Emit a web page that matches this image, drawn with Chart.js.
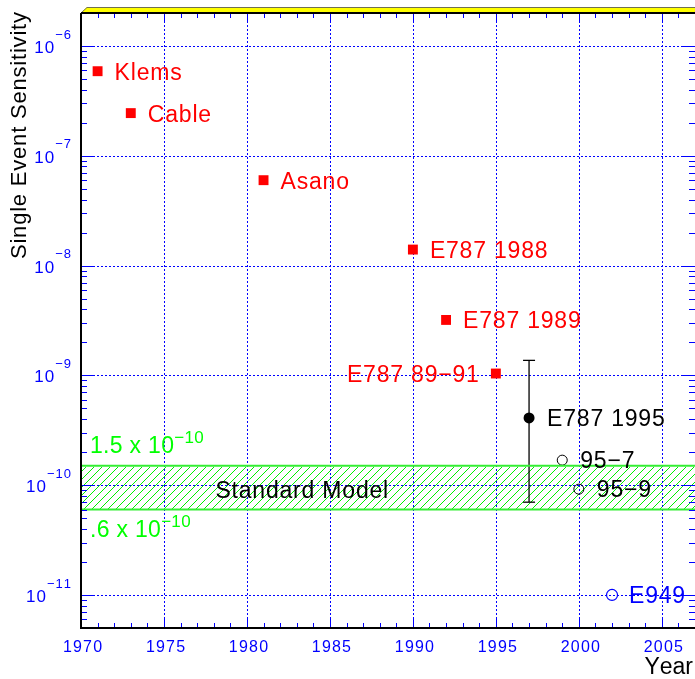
<!DOCTYPE html>
<html>
<head>
<meta charset="utf-8">
<script src="https://cdn.jsdelivr.net/npm/chart.js@4.4.1/dist/chart.umd.min.js"></script>
<style>
  html, body { margin: 0; padding: 0; background: #fff; }
</style>
</head>
<body>
<canvas id="c" width="695" height="679"></canvas>
<script>
// Données
const expNames = ['Klems', 'Cable', 'Asano', 'E787 1988', 'E787 1989', 'E787 89\u221291'];
const expYears = [1971, 1973, 1981, 1990, 1992, 1995];
const expSES = [5.9e-7, 2.45e-7, 6.0e-8, 1.4e-8, 3.2e-9, 1.04e-9];

const e787Year = 1997;
const e787SES = 4.1e-10;
const e787Err = [7.0e-11, 1.37e-9]; // bas, haut

const propNames = ['95\u22127', '95\u22129'];
const propYears = [1999, 2000];
const propSES = [1.69e-10, 9.2e-11];

const e949Year = 2002;
const e949SES = 1.0e-11;

const smBand = [6e-11, 1.5e-10];
const xRange = [1970, 2007];
const yRange = [5e-12, 2e-6];
const xTickYears = [1970, 1975, 1980, 1985, 1990, 1995, 2000, 2005];
const yTickExps = [-11, -10, -9, -8, -7, -6];

const FONT = '"Liberation Sans", Arial, Helvetica, sans-serif';
const BLUE = '#0000ff';
const GREEN = '#00ff00';
const LBL = 23; // taille des étiquettes

// largeur d'un texte avec espacement des lettres (fait à la main)
function width(ctx, s, size, spacing) {
  ctx.save();
  ctx.font = size + 'px ' + FONT;
  let w = 0;
  for (const ch of s) w += ctx.measureText(ch).width + spacing;
  ctx.restore();
  return w - spacing;
}

function text(ctx, s, x, y, size, color, align, spacing) {
  spacing = spacing === undefined ? 0.8 : spacing;
  const w = width(ctx, s, size, spacing);
  let cx = x;
  if (align === 'right') cx = x - w;
  else if (align === 'center') cx = x - w / 2;
  ctx.save();
  ctx.font = size + 'px ' + FONT;
  ctx.fillStyle = color;
  ctx.textAlign = 'left';
  ctx.textBaseline = 'alphabetic';
  for (const ch of s) {
    ctx.fillText(ch, cx, y);
    cx += ctx.measureText(ch).width + spacing;
  }
  ctx.restore();
}

// texte "base" + exposant ; yc = centre vertical de la base
function powText(ctx, base, exp, x, yc, bSize, eSize, rise, color, align, spacing) {
  const wb = width(ctx, base, bSize, spacing) + spacing;
  const we = width(ctx, exp, eSize, spacing);
  const x0 = align === 'right' ? x - wb - we : x;
  text(ctx, base, x0, yc + bSize * 0.716 / 2, bSize, color, 'left', spacing);
  text(ctx, exp, x0 + wb, yc - rise + eSize * 0.716 / 2, eSize, color, 'left', spacing);
}

// hachures de la bande + grille pointillée, pixel par pixel
function drawBandAndGrid(chart) {
  const { ctx, chartArea: a, scales: { x, y } } = chart;
  const top = Math.round(y.getPixelForValue(smBand[1])) + 1;
  const bot = Math.round(y.getPixelForValue(smBand[0]));
  const l = Math.round(a.left), r = Math.round(a.right);
  ctx.save();
  ctx.fillStyle = '#00ee00';
  for (let py = top; py < bot; py++) {
    for (let px = l; px < r; px++) {
      if ((px + py) % 8 === 0) ctx.fillRect(px, py, 1, 1);
    }
  }
  ctx.fillStyle = BLUE;
  xTickYears.forEach(v => {
    const px = Math.round(x.getPixelForValue(v));
    for (let py = Math.round(a.top); py < a.bottom; py += 4) ctx.fillRect(px, py, 1, 2);
  });
  yTickExps.forEach(e => {
    const py = Math.round(y.getPixelForValue(Math.pow(10, e)));
    for (let px = l; px < r; px += 4) ctx.fillRect(px, py, 2, 1);
  });
  ctx.restore();
}

const rootFrame = {
  id: 'rootFrame',
  beforeDatasetsDraw(chart) {
    drawBandAndGrid(chart);
  },
  afterDatasetsDraw(chart) {
    const { ctx, chartArea: a, scales: { x, y } } = chart;

    // graduations
    ctx.save();
    ctx.strokeStyle = BLUE;
    ctx.lineWidth = 1;
    ctx.beginPath();
    for (let yr = xRange[0]; yr <= xRange[1]; yr++) {
      const px = Math.round(x.getPixelForValue(yr)) + 0.5;
      const len = yr % 5 === 0 ? 10 : 5;
      ctx.moveTo(px, a.bottom); ctx.lineTo(px, a.bottom - len);
      ctx.moveTo(px, a.top); ctx.lineTo(px, a.top + len);
    }
    for (let e = -12; e <= -6; e++) {
      for (let m = 1; m <= 9; m++) {
        const v = m * Math.pow(10, e);
        if (v < yRange[0] || v > yRange[1]) continue;
        const py = Math.round(y.getPixelForValue(v)) + 0.5;
        const len = m === 1 ? 12 : 6;
        ctx.moveTo(a.left, py); ctx.lineTo(a.left + len, py);
        ctx.moveTo(a.right, py); ctx.lineTo(a.right - len, py);
      }
    }
    ctx.stroke();
    ctx.restore();

    // cadre
    ctx.save();
    ctx.fillStyle = '#ffff00';
    ctx.beginPath();
    ctx.moveTo(a.left, a.top);
    ctx.lineTo(a.left + 6, a.top - 6);
    ctx.lineTo(a.right, a.top - 6);
    ctx.lineTo(a.right, a.top);
    ctx.closePath();
    ctx.fill();
    ctx.strokeStyle = '#707050';
    ctx.lineWidth = 1;
    ctx.beginPath();
    ctx.moveTo(a.left, a.top);
    ctx.lineTo(a.left + 6, a.top - 5.5);
    ctx.lineTo(a.right, a.top - 5.5);
    ctx.stroke();
    ctx.strokeStyle = '#000';
    ctx.lineWidth = 2;
    ctx.beginPath();
    ctx.moveTo(a.left, a.top);
    ctx.lineTo(a.left, a.bottom);
    ctx.lineTo(a.right, a.bottom);
    ctx.moveTo(a.left, a.top);
    ctx.lineTo(a.right, a.top);
    ctx.stroke();
    ctx.restore();

    // étiquettes des axes
    xTickYears.forEach(v => {
      text(ctx, String(v), x.getPixelForValue(v) + 1.5, a.bottom + 23.5, 16, BLUE, 'center', 1.2);
    });
    yTickExps.forEach(e => {
      const py = y.getPixelForValue(Math.pow(10, e));
      powText(ctx, '10', '\u2212' + (-e), a.left - 10, py + 1, 17, 13, 13, BLUE, 'right', 1);
    });

    text(ctx, 'Year', a.right - 2, a.bottom + 46, LBL, '#000', 'right', 0);
    ctx.save();
    ctx.translate(26, a.top - 1);
    ctx.rotate(-Math.PI / 2);
    text(ctx, 'Single Event Sensitivity', 0, 0, 22, '#000', 'right', 0.8);
    ctx.restore();

    // étiquettes des points
    chart.getDatasetMeta(2).data.forEach((el, i) => {
      const right = i === expNames.length - 1;
      text(ctx, expNames[i], right ? el.x - 17 : el.x + 17, el.y + 8.5, LBL, '#ff0000', right ? 'right' : 'left');
    });
    const p95 = chart.getDatasetMeta(4).data[0];
    text(ctx, 'E787 1995', p95.x + 18, p95.y + 8.5, LBL, '#000', 'left');
    chart.getDatasetMeta(5).data.forEach((el, i) => {
      text(ctx, propNames[i], el.x + 18, el.y + 7.5, LBL, '#000', 'left');
    });
    const p949 = chart.getDatasetMeta(6).data[0];
    text(ctx, 'E949', p949.x + 17, p949.y + 8.5, LBL, BLUE, 'left');

    // bande du Modèle Standard
    const yHi = y.getPixelForValue(smBand[1]);
    const yLo = y.getPixelForValue(smBand[0]);
    text(ctx, 'Standard Model', x.getPixelForValue(1978.1), (yHi + yLo) / 2 + 10.5, LBL, '#000', 'left', 0.8);
    powText(ctx, '1.5 x 10', '\u221210', a.left + 9, yHi - 21, LBL, 17, 8, GREEN, 'left', 0.3);
    powText(ctx, '.6 x 10', '\u221210', a.left + 9, yLo + 19, LBL, 17, 8, GREEN, 'left', 0.3);
  }
};

const ctx = document.getElementById('c').getContext('2d');
window.sesChart = new Chart(ctx, {
  type: 'line',
  data: {
    datasets: [
      {
        data: xRange.map(v => ({ x: v, y: smBand[0] })),
        borderColor: '#33ee33', borderWidth: 2, pointRadius: 0, fill: false
      },
      {
        data: xRange.map(v => ({ x: v, y: smBand[1] })),
        borderColor: '#33ee33', borderWidth: 2, pointRadius: 0, fill: false
      },
      {
        data: expYears.map((v, i) => ({ x: v, y: expSES[i] })),
        showLine: false, pointStyle: 'rect', pointRadius: 7,
        pointBackgroundColor: '#ff0000', pointBorderWidth: 0
      },
      {
        data: e787Err.map(v => ({ x: e787Year, y: v })),
        borderColor: '#000', borderWidth: 1.3, pointStyle: 'line', pointRadius: 6,
        pointBorderColor: '#000', pointBorderWidth: 1.3, fill: false
      },
      {
        data: [{ x: e787Year, y: e787SES }],
        showLine: false, pointStyle: 'circle', pointRadius: 5.5,
        pointBackgroundColor: '#000', pointBorderWidth: 0
      },
      {
        data: propYears.map((v, i) => ({ x: v, y: propSES[i] })),
        showLine: false, pointStyle: 'circle', pointRadius: 5,
        pointBackgroundColor: 'rgba(0,0,0,0)', pointBorderColor: '#000', pointBorderWidth: 1
      },
      {
        data: [{ x: e949Year, y: e949SES }],
        showLine: false, pointStyle: 'circle', pointRadius: 5.5,
        pointBackgroundColor: 'rgba(0,0,0,0)', pointBorderColor: BLUE, pointBorderWidth: 1.2
      }
    ]
  },
  options: {
    responsive: false,
    animation: false,
    layout: { autoPadding: false, padding: { left: 81, top: 13, right: 0, bottom: 51 } },
    scales: {
      x: { type: 'linear', min: xRange[0], max: xRange[1], display: false },
      y: { type: 'logarithmic', min: yRange[0], max: yRange[1], display: false }
    },
    plugins: { legend: { display: false }, tooltip: { enabled: false } },
    elements: { line: { tension: 0 } }
  },
  plugins: [rootFrame]
});
</script>
</body>
</html>
